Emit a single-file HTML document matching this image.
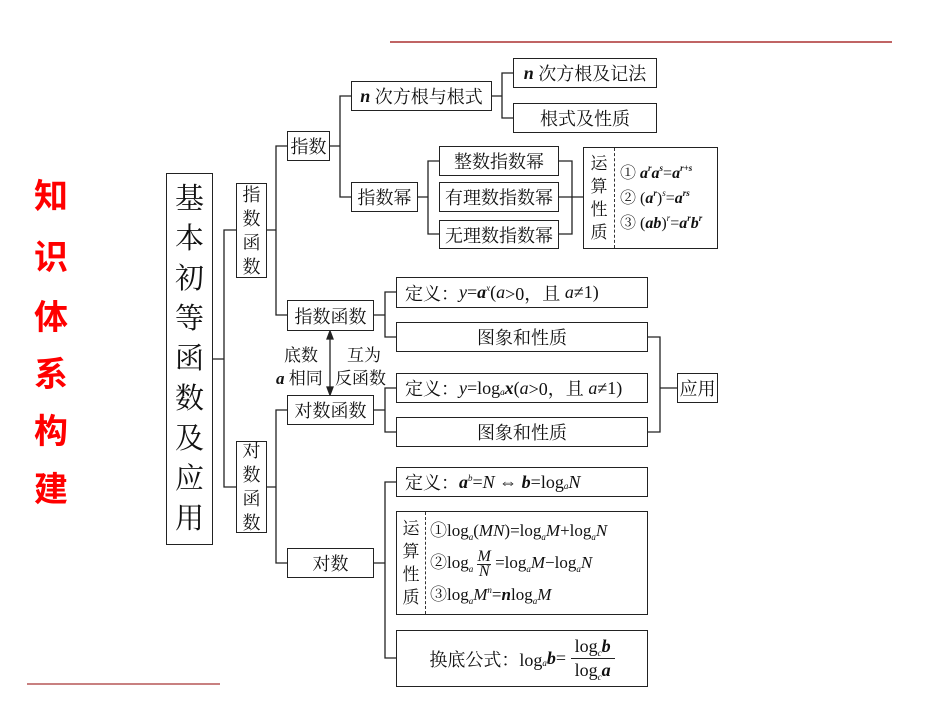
<!DOCTYPE html>
<html><head><meta charset="utf-8"><style>
body{margin:0;width:950px;height:713px;background:#fff;position:relative;overflow:hidden;font-family:"Liberation Serif","Noto Serif CJK SC",serif;color:#111}
.b{position:absolute;border:1.5px solid #222;box-sizing:border-box;display:flex;align-items:center;justify-content:center;font-size:18px;white-space:nowrap;background:#fff}
.v{flex-direction:column;line-height:24px}
.t{position:absolute;font-size:17px;white-space:nowrap}
i{font-style:italic}
sub{font-size:9px;position:relative;top:4px;vertical-align:baseline;line-height:0;font-style:italic}
sup{font-size:9px;position:relative;top:-7px;vertical-align:baseline;line-height:0;font-style:italic}
.red{position:absolute;left:31px;width:40px;text-align:center;color:#f00;font-weight:bold;font-size:34px;font-family:"Liberation Sans","Noto Sans CJK SC",sans-serif;line-height:40px}
.ys{width:30px;text-align:center;line-height:23px;font-size:17px;border-right:1.3px dashed #333;height:100%;display:flex;flex-direction:column;justify-content:center;flex:none}
</style></head><body>
<div style="position:absolute;left:390px;top:41px;width:502px;height:2px;background:#c06464"></div>
<div style="position:absolute;left:27px;top:683px;width:193px;height:2px;background:#c88080"></div>
<div class="red" style="top:177px">知</div>
<div class="red" style="top:238px">识</div>
<div class="red" style="top:298px">体</div>
<div class="red" style="top:355px">系</div>
<div class="red" style="top:412px">构</div>
<div class="red" style="top:470px">建</div>

<svg width="950" height="713" style="position:absolute;left:0;top:0" fill="none" stroke="#222" stroke-width="1.3">
<path d="M213 359H224M236 230H224V487H236"/>
<path d="M266 230H276M287 146H276V315H287M266 487H276M287 410H276V563H287"/>
<path d="M330 146H340M351 96H340V197H351"/>
<path d="M492 96H502M513 73H502V118H513"/>
<path d="M418 197H428M439 161H428V234H439"/>
<path d="M559 161H572V234H559M559 197H583"/>
<path d="M374 315H385M396 292H385V337H396"/>
<path d="M374 410H385M396 388H385V432H396"/>
<path d="M648 337H660V432H648M660 388H677"/>
<path d="M374 563H385M396 482H385V658H396"/>
<path d="M330 336V390"/>
<path d="M330 331l-3 8h6z M330 395l-3 -8h6z" fill="#222"/>
</svg>

<div class="b v" style="left:166px;top:173px;width:47px;height:372px;font-size:29px;line-height:40px">基<br>本<br>初<br>等<br>函<br>数<br>及<br>应<br>用</div>
<div class="b v" style="left:236px;top:183px;width:31px;height:95px;font-size:18px">指<br>数<br>函<br>数</div>
<div class="b v" style="left:236px;top:441px;width:31px;height:92px;font-size:18px">对<br>数<br>函<br>数</div>
<div class="b" style="left:287px;top:131px;width:43px;height:30px">指数</div>
<div class="b" style="left:351px;top:81px;width:141px;height:30px"><i><b>n</b></i>&nbsp;次方根与根式</div>
<div class="b" style="left:351px;top:182px;width:67px;height:30px">指数幂</div>
<div class="b" style="left:513px;top:58px;width:144px;height:30px"><i><b>n</b></i>&nbsp;次方根及记法</div>
<div class="b" style="left:513px;top:103px;width:144px;height:30px">根式及性质</div>
<div class="b" style="left:439px;top:146px;width:120px;height:30px">整数指数幂</div>
<div class="b" style="left:439px;top:182px;width:120px;height:30px">有理数指数幂</div>
<div class="b" style="left:439px;top:220px;width:120px;height:29px">无理数指数幂</div>
<div class="b" style="left:583px;top:147px;width:135px;height:102px;justify-content:flex-start">
 <div class="ys">运<br>算<br>性<br>质</div>
 <div style="padding-left:5px;font-size:16px;line-height:25px">①&nbsp;<i><b>a<sup>r</sup>a<sup>s</sup></b></i>=<i><b>a<sup>r+s</sup></b></i><br>②&nbsp;(<i><b>a<sup>r</sup></b></i>)<sup>s</sup>=<i><b>a<sup>rs</sup></b></i><br>③&nbsp;(<i><b>ab</b></i>)<sup>r</sup>=<i><b>a<sup>r</sup>b<sup>r</sup></b></i></div>
</div>
<div class="b" style="left:287px;top:300px;width:87px;height:31px">指数函数</div>
<div class="b" style="left:287px;top:395px;width:87px;height:30px">对数函数</div>
<div class="b" style="left:396px;top:277px;width:252px;height:31px;justify-content:flex-start;padding-left:8px">定义：<i>y</i>=<i><b>a</b><sup>x</sup></i>(<i>a</i>&gt;0，且&nbsp;<i>a</i>≠1)</div>
<div class="b" style="left:396px;top:322px;width:252px;height:30px">图象和性质</div>
<div class="b" style="left:396px;top:373px;width:252px;height:30px;justify-content:flex-start;padding-left:8px">定义：<i>y</i>=log<sub>a</sub><i><b>x</b></i>(<i>a</i>&gt;0，且&nbsp;<i>a</i>≠1)</div>
<div class="b" style="left:396px;top:417px;width:252px;height:30px">图象和性质</div>
<div class="b" style="left:677px;top:373px;width:41px;height:30px">应用</div>
<div class="t" style="left:284px;top:341px">底数</div>
<div class="t" style="left:276px;top:364px"><i><b>a</b></i>&nbsp;相同</div>
<div class="t" style="left:347px;top:341px">互为</div>
<div class="t" style="left:335px;top:364px">反函数</div>
<div class="b" style="left:287px;top:548px;width:87px;height:30px">对数</div>
<div class="b" style="left:396px;top:467px;width:252px;height:30px;justify-content:flex-start;padding-left:8px">定义：<i><b>a</b><sup>b</sup></i>=<i>N</i>&nbsp;⇔&nbsp;<i><b>b</b></i>=log<sub>a</sub><i>N</i></div>
<div class="b" style="left:396px;top:511px;width:252px;height:104px;justify-content:flex-start">
 <div class="ys" style="width:28px">运<br>算<br>性<br>质</div>
 <div style="padding-left:4px;font-size:17px;line-height:32px">①log<sub>a</sub>(<i>MN</i>)=log<sub>a</sub><i>M</i>+log<sub>a</sub><i>N</i><br>②log<sub>a</sub>&nbsp;<span style="display:inline-block;vertical-align:middle;text-align:center;line-height:14px;font-style:italic;font-size:16px"><span style="border-bottom:1px solid #222;display:block">M</span>N</span>&nbsp;=log<sub>a</sub><i>M</i>−log<sub>a</sub><i>N</i><br>③log<sub>a</sub><i>M<sup>n</sup></i>=<i><b>n</b></i>log<sub>a</sub><i>M</i></div>
</div>
<div class="b" style="left:396px;top:630px;width:252px;height:57px">换底公式：log<sub>a</sub><i><b>b</b></i>=&nbsp;<span style="display:inline-block;vertical-align:middle;text-align:center;line-height:23px"><span style="border-bottom:1px solid #222;display:block;padding:0 4px">log<sub>c</sub><i><b>b</b></i></span>log<sub>c</sub><i><b>a</b></i></span></div>
</body></html>
